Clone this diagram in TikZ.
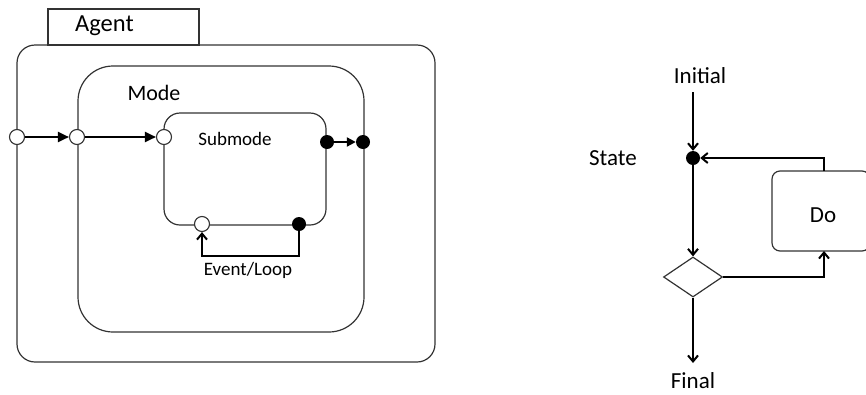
\documentclass[tikz,border=0pt]{standalone}
\usepackage{fontspec}
\setmainfont{Carlito}
\usetikzlibrary{arrows.meta,shapes.geometric}
\begin{document}
\begin{tikzpicture}[x=1pt,y=-1pt,
  boxline/.style={draw=black!80,line width=1.2pt},
  rbox/.style={boxline,rectangle,inner sep=0pt},
  opendot/.style={circle,draw=black!80,fill=white,line width=1.1pt,minimum size=15pt,inner sep=0pt},
  filldot/.style={circle,fill=black,minimum size=14pt,inner sep=0pt},
  arrL/.style={line width=2.1pt,-{Triangle[length=11pt,width=10pt]}},
  arrR/.style={line width=2.1pt,-{Straight Barb[length=6pt,width=10pt,line width=2pt]}},
  lbl/.style={inner sep=0pt,text=black}]
\useasboundingbox (0,0) rectangle (866,394);
% left diagram
\node[rbox,minimum width=151pt,minimum height=36pt] (agenttab) at (123.5,27) {};
\node[lbl,font=\fontsize{24.5}{24}\selectfont,anchor=west] (agentlbl) at (75,26) {Agent};
\node[rbox,rounded corners=18pt,minimum width=418pt,minimum height=317pt] (agent) at (226,203.5) {};
\node[rbox,rounded corners=35pt,minimum width=286pt,minimum height=266pt] (mode) at (221,199) {};
\node[lbl,font=\fontsize{22}{22}\selectfont] (modelbl) at (154,93) {Mode};
\node[rbox,rounded corners=16pt,minimum width=162pt,minimum height=112pt] (sub) at (245,169) {};
\node[lbl,font=\fontsize{19}{19}\selectfont] (sublbl) at (235,139) {Submode};
\node[opendot] (c1) at (17,137) {};
\node[opendot] (c2) at (77,137) {};
\node[opendot] (c3) at (164,137) {};
\node[filldot] (f1) at (327,142) {};
\node[filldot] (f2) at (363,142) {};
\node[opendot] (b1) at (202,224) {};
\node[filldot] (b2) at (299,224) {};
\draw[arrL] (c1) -- (c2);
\draw[arrL] (c2) -- (c3);
\draw[line width=2.1pt,-{Triangle[length=9pt,width=9pt]}] (f1) -- (f2);
\coordinate (loopcorner) at (299,256);
\draw[arrR] (b2) -- (loopcorner) -| (b1);
\node[lbl,font=\fontsize{19}{19}\selectfont] (looplbl) at (248,270) {Event/Loop};
% right diagram
\node[lbl,font=\fontsize{23}{23}\selectfont] (initlbl) at (700,76) {Initial};
\coordinate (init) at (693,92);
\node[filldot] (state) at (693,158) {};
\node[lbl,font=\fontsize{23}{23}\selectfont] (statelbl) at (613,158) {State};
\node[rbox,rounded corners=8pt,minimum width=98pt,minimum height=80pt] (do) at (821,211) {};
\node[lbl,font=\fontsize{23}{23}\selectfont] (dolbl) at (823,215) {Do};
\node[diamond,boxline,minimum width=59pt,minimum height=40pt,inner sep=0pt] (dia) at (693,277) {};
\coordinate (dotop) at (824,171);
\coordinate (dobot) at (824,251);
\coordinate (fin) at (693,363);
\node[lbl,font=\fontsize{23}{23}\selectfont] (finlbl) at (693,381) {Final};
\draw[arrR] (init) -- (state);
\draw[arrR] (dotop) |- (state);
\draw[arrR] (state) -- (dia.north);
\draw[arrR] (dia.east) -| (dobot);
\draw[arrR] (dia.south) -- (fin);
\end{tikzpicture}
\end{document}
